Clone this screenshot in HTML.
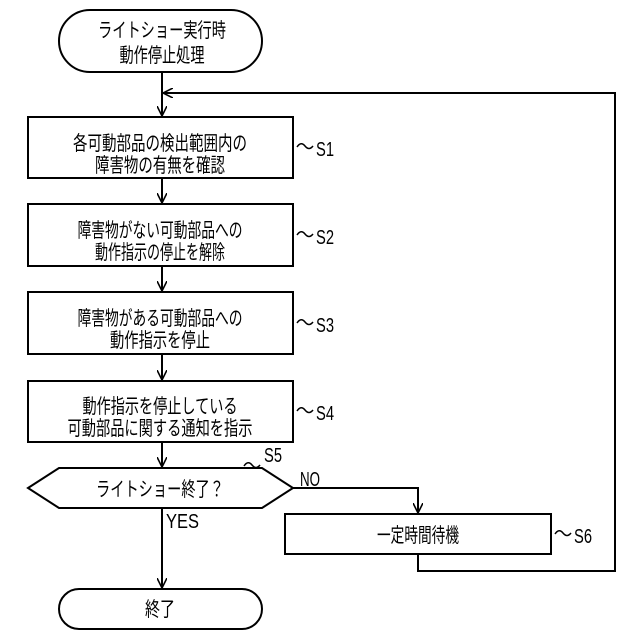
<!DOCTYPE html>
<html><head><meta charset="utf-8"><style>body{margin:0;background:#fff}svg{display:block}</style></head><body>
<svg width="640" height="640" viewBox="0 0 640 640" xmlns="http://www.w3.org/2000/svg" font-family="'Liberation Sans','Noto Sans CJK JP',sans-serif" font-size="20" fill="none" stroke="#000" stroke-width="2">
<defs><marker id="a" viewBox="0 0 10 10" refX="10" refY="5" markerWidth="10" markerHeight="10" markerUnits="userSpaceOnUse" orient="auto"><path d="M0,0 L10,5 L0,10" fill="none" stroke="#000" stroke-width="1.6"/></marker></defs>
<rect x="59" y="10" width="203" height="62" rx="31"/>
<rect x="28" y="117" width="265" height="61"/>
<rect x="28" y="204" width="265" height="62"/>
<rect x="28" y="292" width="265" height="62"/>
<rect x="28" y="381" width="265" height="61"/>
<polygon points="28,488 59,468 262,468 293,488 262,508 59,508"/>
<rect x="285" y="514" width="266" height="40"/>
<rect x="59" y="589" width="203" height="40" rx="20"/>
<line x1="162" y1="72" x2="162" y2="116" marker-end="url(#a)"/>
<polyline points="418,554 418,571 615,571 615,93 163,93" marker-end="url(#a)"/>
<line x1="162" y1="178" x2="162" y2="203" marker-end="url(#a)"/>
<line x1="162" y1="266" x2="162" y2="291" marker-end="url(#a)"/>
<line x1="162" y1="354" x2="162" y2="380" marker-end="url(#a)"/>
<line x1="162" y1="442" x2="162" y2="467" marker-end="url(#a)"/>
<line x1="162" y1="508" x2="162" y2="588" marker-end="url(#a)"/>
<polyline points="293,488 418,488 418,513" marker-end="url(#a)"/>
<g stroke-width="1.5">
<path d="M297,147 q4,-6 8,-1 t8,0"/><path d="M297,235 q4,-6 8,-1 t8,0"/><path d="M297,323 q4,-6 8,-1 t8,0"/><path d="M297,411 q4,-6 8,-1 t8,0"/><path d="M244,466 q4,-6 8,-1 t8,0"/><path d="M555,534 q4,-6 8,-1 t8,0"/>
</g>
<g fill="#000" stroke="none" text-anchor="middle">
<text x="162" y="37" textLength="128" lengthAdjust="spacingAndGlyphs">ライトショー実行時</text>
<text x="162" y="62" textLength="85" lengthAdjust="spacingAndGlyphs">動作停止処理</text>
<text x="160" y="150" textLength="174" lengthAdjust="spacingAndGlyphs">各可動部品の検出範囲内の</text>
<text x="160" y="172" textLength="130" lengthAdjust="spacingAndGlyphs">障害物の有無を確認</text>
<text x="160" y="237" textLength="165" lengthAdjust="spacingAndGlyphs">障害物がない可動部品への</text>
<text x="160" y="259" textLength="130" lengthAdjust="spacingAndGlyphs">動作指示の停止を解除</text>
<text x="160" y="325" textLength="165" lengthAdjust="spacingAndGlyphs">障害物がある可動部品への</text>
<text x="160" y="347" textLength="100" lengthAdjust="spacingAndGlyphs">動作指示を停止</text>
<text x="160" y="413" textLength="155" lengthAdjust="spacingAndGlyphs">動作指示を停止している</text>
<text x="160" y="435" textLength="185" lengthAdjust="spacingAndGlyphs">可動部品に関する通知を指示</text>
<text x="160" y="496" textLength="128" lengthAdjust="spacingAndGlyphs">ライトショー終了？</text>
<text x="418" y="542" textLength="82" lengthAdjust="spacingAndGlyphs">一定時間待機</text>
<text x="160" y="616" textLength="30" lengthAdjust="spacingAndGlyphs">終了</text>
<g text-anchor="start" font-size="20">
<text x="316" y="156" textLength="18" lengthAdjust="spacingAndGlyphs">S1</text><text x="316" y="244" textLength="18" lengthAdjust="spacingAndGlyphs">S2</text><text x="316" y="332" textLength="18" lengthAdjust="spacingAndGlyphs">S3</text><text x="316" y="420" textLength="18" lengthAdjust="spacingAndGlyphs">S4</text><text x="264" y="462" textLength="18" lengthAdjust="spacingAndGlyphs">S5</text><text x="574" y="543" textLength="18" lengthAdjust="spacingAndGlyphs">S6</text>
<text x="300" y="486" textLength="20" lengthAdjust="spacingAndGlyphs">NO</text><text x="166" y="528" textLength="33" lengthAdjust="spacingAndGlyphs">YES</text>
</g>
</g>
</svg>
</body></html>
